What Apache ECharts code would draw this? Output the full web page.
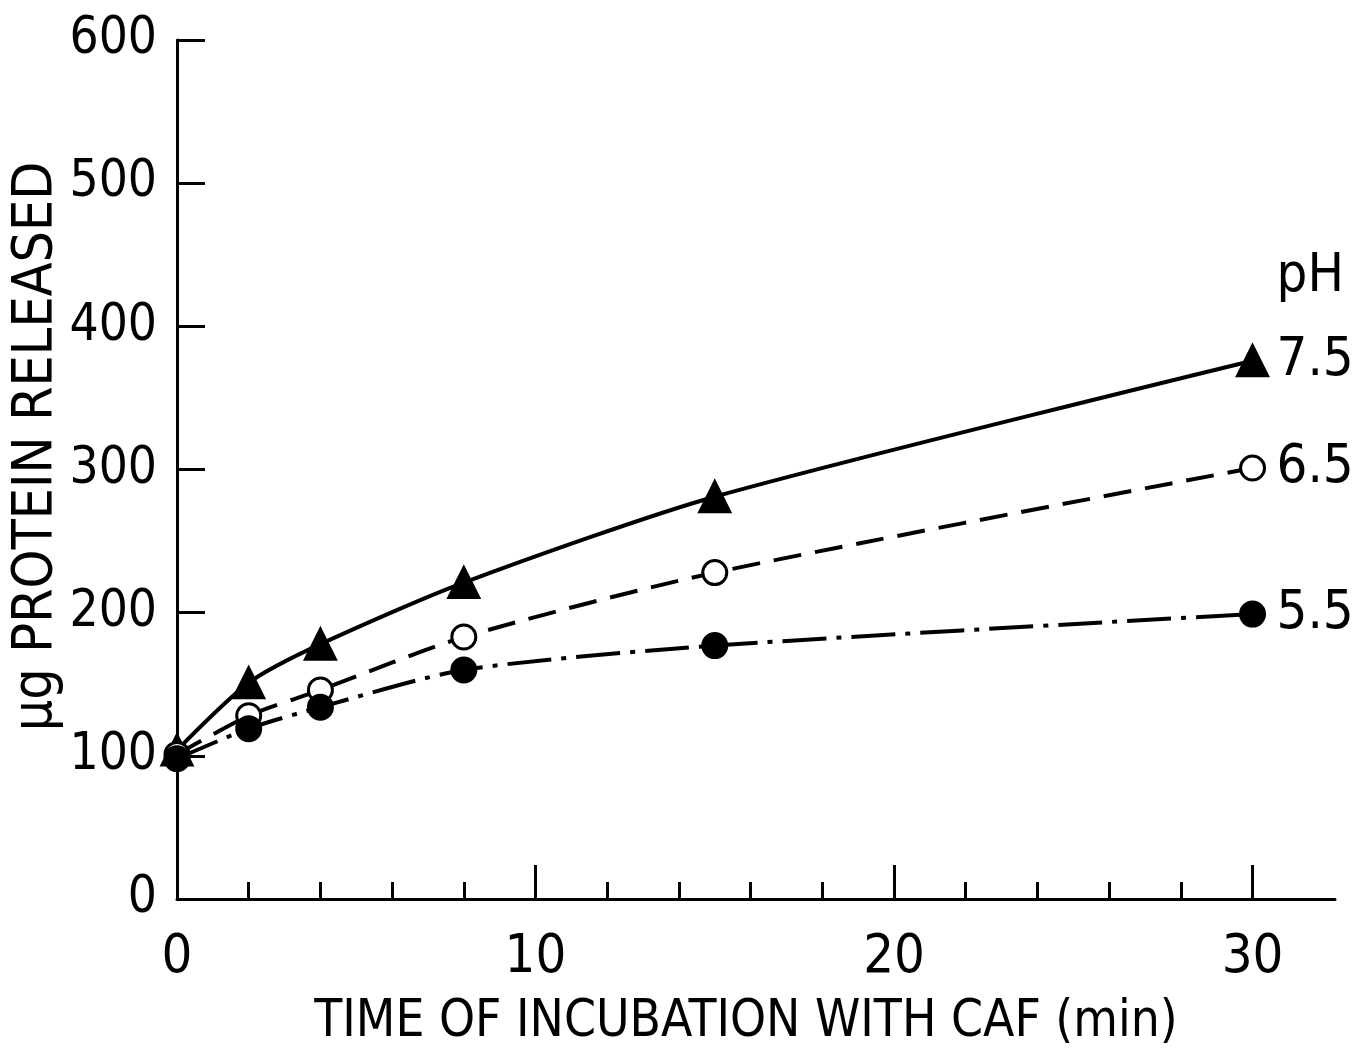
<!DOCTYPE html>
<html>
<head>
<meta charset="utf-8">
<title>Protein released vs time</title>
<script src="https://cdn.jsdelivr.net/npm/echarts@6/dist/echarts.min.js"></script>
<style>
  html, body { margin: 0; padding: 0; background: #fff; }
  #chart { width: 1364px; height: 1056px; }
</style>
</head>
<body>
<div id="chart"></div>
<script>
// time of incubation (min)
const times = [0, 2, 4, 8, 15, 30]
// ug protein released at each pH
const ph75 = [104, 151, 178, 221, 281, 376]
const ph65 = [101, 128, 146, 183, 228, 301]
const ph55 = [98, 119, 134, 160, 177, 199]
const phLabels = ['7.5', '6.5', '5.5']
const yTicks = [0, 100, 200, 300, 400, 500, 600]
const xMajor = [0, 10, 20, 30]
const xMinor = [0, 2, 4, 6, 8, 10, 12, 14, 16, 18, 20, 22, 24, 26, 28, 30]

const font = "'Liberation Sans Narrow', 'DejaVu Sans Condensed', sans-serif"
const ink = '#000'

function pairs(ys) {
  return times.map((t, i) => [t, ys[i]])
}

function makeSeries(name, ys, symbol, size, fill, dash) {
  return {
    name: name,
    type: 'line',
    data: pairs(ys),
    smooth: 0.25,
    symbol: symbol,
    symbolSize: size,
    showAllSymbol: true,
    lineStyle: { color: ink, width: 4, type: dash },
    itemStyle: { color: fill, borderColor: ink, borderWidth: 3 },
    endLabel: {
      show: true,
      formatter: name,
      fontFamily: font,
      fontSize: 54,
      color: ink,
      distance: 24
    },
    emphasis: { disabled: true },
    animation: false
  }
}

const chart = echarts.init(document.getElementById('chart'))

const options = {
  backgroundColor: '#fff',
  animation: false,
  grid: { left: 177, right: 29, top: 40, bottom: 157, containLabel: false, outerBoundsMode: 'none' },
  xAxis: [
    {
      type: 'value',
      min: 0,
      max: 32.3,
      name: 'TIME OF INCUBATION WITH CAF (min)',
      nameLocation: 'middle',
      nameGap: 98,
      nameMoveOverlap: false,
      nameTextStyle: { fontFamily: font, fontSize: 51, color: ink, padding: [0, 20, 0, 0] },
      axisLine: { show: true, lineStyle: { color: ink, width: 3 } },
      axisTick: { show: true, inside: true, length: 17, customValues: xMinor, lineStyle: { color: ink, width: 3 } },
      axisLabel: { show: true, customValues: xMajor, fontFamily: font, fontSize: 54, color: ink, margin: 32 },
      splitLine: { show: false }
    },
    {
      type: 'value',
      position: 'bottom',
      min: 0,
      max: 32.3,
      axisLine: { show: false },
      axisTick: { show: true, inside: true, length: 34, customValues: xMajor, lineStyle: { color: ink, width: 3 } },
      axisLabel: { show: false },
      splitLine: { show: false }
    }
  ],
  yAxis: {
    type: 'value',
    min: 0,
    max: 600,
    interval: 100,
    name: 'μg PROTEIN RELEASED',
    nameLocation: 'middle',
    nameGap: 113,
    nameMoveOverlap: false,
    nameTextStyle: { fontFamily: font, fontSize: 55, color: ink, padding: [0, 0, 0, 46] },
    axisLine: { show: true, lineStyle: { color: ink, width: 3 } },
    axisTick: { show: true, inside: true, length: 28, lineStyle: { color: ink, width: 3 } },
    axisLabel: {
      fontFamily: font, fontSize: 51, color: ink, margin: 20,
      formatter: v => (yTicks.indexOf(v) >= 0 ? String(v) : '')
    },
    splitLine: { show: false }
  },
  graphic: [
    {
      type: 'text',
      right: 20,
      top: 250,
      style: { text: 'pH', font: '54px ' + font, fill: ink }
    }
  ],
  series: [
    makeSeries(phLabels[0], ph75, 'triangle', 30, ink, 'solid'),
    makeSeries(phLabels[1], ph65, 'circle', 24, '#fff', [28, 14]),
    makeSeries(phLabels[2], ph55, 'circle', 24, ink, [44, 10, 5, 10])
  ]
}

chart.setOption(options)
</script>
</body>
</html>
